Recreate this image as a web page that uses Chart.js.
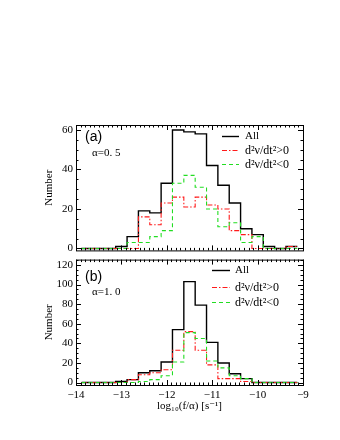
<!DOCTYPE html>
<html>
<head>
<meta charset="utf-8">
<script src="https://cdn.jsdelivr.net/npm/chart.js@4.4.1/dist/chart.umd.min.js"></script>
<style>
  html, body { margin: 0; padding: 0; background: #fff; }
  #wrap { position: relative; width: 340px; height: 440px; }
  canvas { position: absolute; left: 0; }
  #chartA { top: 0; }
  #chartB { top: 250px; }
</style>
</head>
<body>
<div id="wrap">
  <canvas id="chartA" width="340" height="260"></canvas>
  <canvas id="chartB" width="340" height="190"></canvas>
</div>
<script>
// histogram bins: log10(f/alpha), bin width 0.25 dex
const BIN_CENTERS = [-13.75, -13.5, -13.25, -13.0, -12.75, -12.5, -12.25, -12.0, -11.75,
  -11.5, -11.25, -11.0, -10.75, -10.5, -10.25, -10.0, -9.75, -9.5, -9.25];
const BIN_WIDTH = 0.25;

// panel (a), alpha = 0.5
const ALL_A = [0, 0, 0, 1, 6, 19, 18, 33, 60, 59, 58, 42, 32, 23, 10, 7, 1, 0, 1];
const POS_A = [0, 0, 0, 0, 0, 16, 12, 23, 26, 21, 26, 22, 20, 9, 7, 0, 0, 0, 1];
const NEG_A = [0, 0, 0, 0, 3, 3, 6, 9, 33, 37, 31, 20, 11, 13, 3, 6, 0, 0, 0];

// panel (b), alpha = 1.0
const ALL_B = [0, 0, 0, 1, 3, 10, 12, 21, 54, 103, 79, 41, 20, 9, 4, 0, 0, 0, 0];
const POS_B = [0, 0, 0, 0, 3, 8, 10, 13, 33, 52, 33, 18, 4, 4, 1, 0, 0, 0, 0];
const NEG_B = [0, 0, 0, 0, 0, 1, 3, 7, 21, 51, 45, 22, 15, 7, 4, 0, 0, 0, 0];

const SERIES_LABELS = ["All", "d\u00b2\u03bd/dt\u00b2>0", "d\u00b2\u03bd/dt\u00b2<0"];
const X_TICKS = [-14, -13, -12, -11, -10, -9];
const Y_TICKS_A = [0, 20, 40, 60];
const Y_TICKS_B = [0, 20, 40, 60, 80, 100, 120];

const SERIF = "'Liberation Serif', 'DejaVu Serif', serif";
const SANS = "'Liberation Sans', Arial, sans-serif";

function histPoints(values) {
  const pts = BIN_CENTERS.map((c, i) => ({ x: c - BIN_WIDTH / 2, y: values[i] }));
  const last = BIN_CENTERS.length - 1;
  pts.push({ x: BIN_CENTERS[last] + BIN_WIDTH / 2, y: values[last] });
  return pts;
}

function fmtNum(v) {
  return v < 0 ? "\u2212" + Math.abs(v) : String(v);
}

// IDL-like box with inward ticks on all four sides
const idlFrame = {
  id: "idlFrame",
  afterDatasetsDraw(chart, args, opts) {
    const { ctx, chartArea: a } = chart;
    const xs = chart.scales.x;
    const ys = chart.scales.y;
    ctx.save();
    ctx.strokeStyle = "#000";
    ctx.lineWidth = 1;
    ctx.strokeRect(a.left + 0.5, a.top + 0.5, a.width, a.height);

    ctx.beginPath();
    const nx = Math.round((xs.max - xs.min) / opts.xMinor);
    for (let k = 0; k <= nx; k++) {
      const v = xs.min + k * opts.xMinor;
      const major = Math.abs(v / opts.xMajor - Math.round(v / opts.xMajor)) < 1e-6;
      const len = major ? opts.majorLen : opts.minorLen;
      const px = Math.round(xs.getPixelForValue(v)) + 0.5;
      ctx.moveTo(px, a.bottom);
      ctx.lineTo(px, a.bottom - len);
      ctx.moveTo(px, a.top);
      ctx.lineTo(px, a.top + len);
    }
    const y0 = Math.ceil(ys.min / opts.yMinor) * opts.yMinor;
    for (let v = y0; v <= ys.max + 1e-6; v += opts.yMinor) {
      const major = Math.abs(v / opts.yMajor - Math.round(v / opts.yMajor)) < 1e-6;
      const len = major ? opts.majorLen : opts.minorLen;
      const py = Math.round(ys.getPixelForValue(v)) + 0.5;
      ctx.moveTo(a.left, py);
      ctx.lineTo(a.left + len, py);
      ctx.moveTo(a.right, py);
      ctx.lineTo(a.right - len, py);
    }
    ctx.stroke();
    ctx.restore();
  },
  afterDraw(chart, args, opts) {
    const { ctx, chartArea: a } = chart;
    ctx.save();
    ctx.fillStyle = "#000";
    ctx.textBaseline = "middle";
    ctx.textAlign = "left";

    // panel tag and alpha
    ctx.font = "14px " + SANS;
    ctx.fillText(opts.tag, a.left + 9, a.top + opts.tagY);
    ctx.font = "11px " + SERIF;
    ctx.fillText(opts.alpha, a.left + 16, a.top + opts.alphaY);

    // legend
    chart.data.datasets.forEach((ds, i) => {
      const y = Math.round(a.top + opts.legendRows[i]) + 0.5;
      ctx.save();
      ctx.strokeStyle = ds.borderColor;
      ctx.lineWidth = ds.borderWidth;
      ctx.setLineDash(ds.borderDash || []);
      ctx.beginPath();
      ctx.moveTo(a.left + opts.legendX0, y);
      ctx.lineTo(a.left + opts.legendX1, y);
      ctx.stroke();
      ctx.restore();
      ctx.font = (i === 0 ? "11px " : "12px ") + SERIF;
      ctx.fillText(ds.label, a.left + opts.legendTextX, y);
    });
    ctx.restore();
  },
};

function makeDatasets(all, pos, neg) {
  return [
    {
      label: SERIES_LABELS[0],
      data: histPoints(all),
      borderColor: "#000000",
      borderWidth: 1.4,
      order: 3,
    },
    {
      label: SERIES_LABELS[1],
      data: histPoints(pos),
      borderColor: "#ff1a1a",
      borderWidth: 1.1,
      borderDash: [5, 2, 1.5, 2],
      order: 2,
    },
    {
      label: SERIES_LABELS[2],
      data: histPoints(neg),
      borderColor: "#22dd22",
      borderWidth: 1.1,
      borderDash: [4, 3],
      order: 1,
    },
  ].map((ds) => ({
    ...ds,
    stepped: true,
    pointRadius: 0,
    fill: false,
    tension: 0,
  }));
}

function makeChart(canvas, cfg) {
  return new Chart(canvas, {
    type: "line",
    data: { datasets: makeDatasets(cfg.all, cfg.pos, cfg.neg) },
    plugins: [idlFrame],
    options: {
      responsive: false,
      animation: false,
      devicePixelRatio: 1,
      events: [],
      layout: { padding: cfg.padding },
      scales: {
        x: {
          type: "linear",
          min: -14,
          max: -9,
          afterBuildTicks: (scale) => {
            scale.ticks = X_TICKS.map((v) => ({ value: v }));
          },
          afterFit: (scale) => {
            scale.height = cfg.xHeight;
          },
          grid: { display: false, drawTicks: false },
          border: { display: false },
          ticks: {
            display: cfg.showX,
            padding: 4,
            color: "#000",
            font: { family: SERIF, size: 11 },
            maxRotation: 0,
            callback: (v) => fmtNum(v),
          },
          title: {
            display: cfg.showX,
            text: "log\u2081\u2080(f/\u03b1) [s\u207b\u00b9]",
            color: "#000",
            font: { family: SERIF, size: 11 },
            padding: 0,
          },
        },
        y: {
          min: cfg.yMin,
          max: cfg.yMax,
          afterBuildTicks: (scale) => {
            scale.ticks = cfg.yTicks.map((v) => ({ value: v }));
          },
          afterFit: (scale) => {
            scale.width = 33;
          },
          grid: { display: false, drawTicks: false },
          border: { display: false },
          ticks: {
            padding: 3,
            color: "#000",
            font: { family: SERIF, size: 11 },
            callback: (v) => fmtNum(v),
          },
          title: {
            display: true,
            text: "Number",
            color: "#000",
            font: { family: SERIF, size: 11 },
            padding: 0,
          },
        },
      },
      plugins: {
        legend: { display: false },
        tooltip: { enabled: false },
        idlFrame: {
          xMajor: 1,
          xMinor: 0.1,
          yMajor: 20,
          yMinor: 5,
          majorLen: 5,
          minorLen: 2.5,
          tag: cfg.tag,
          tagY: cfg.tagY,
          alpha: cfg.alpha,
          alphaY: cfg.alphaY,
          legendRows: cfg.legendRows,
          legendX0: cfg.legendX0,
          legendX1: cfg.legendX1,
          legendTextX: cfg.legendTextX,
        },
      },
    },
  });
}

makeChart(document.getElementById("chartA"), {
  all: ALL_A,
  pos: POS_A,
  neg: NEG_A,
  yMin: -1,
  yMax: 62.5,
  yTicks: Y_TICKS_A,
  showX: false,
  xHeight: 0,
  padding: { left: 43, right: 37, top: 125, bottom: 7 },
  tag: "(a)",
  tagY: 12,
  alpha: "\u03b1=0. 5",
  alphaY: 28,
  legendRows: [11, 25, 39],
  legendX0: 146,
  legendX1: 163,
  legendTextX: 169,
});

makeChart(document.getElementById("chartB"), {
  all: ALL_B,
  pos: POS_B,
  neg: NEG_B,
  yMin: -2.5,
  yMax: 125.5,
  yTicks: Y_TICKS_B,
  showX: true,
  xHeight: 28,
  padding: { left: 43, right: 37, top: 6, bottom: 27 },
  tag: "(b)",
  tagY: 18,
  alpha: "\u03b1=1. 0",
  alphaY: 33,
  legendRows: [10, 27, 42],
  legendX0: 136,
  legendX1: 154,
  legendTextX: 159,
});
</script>
</body>
</html>
